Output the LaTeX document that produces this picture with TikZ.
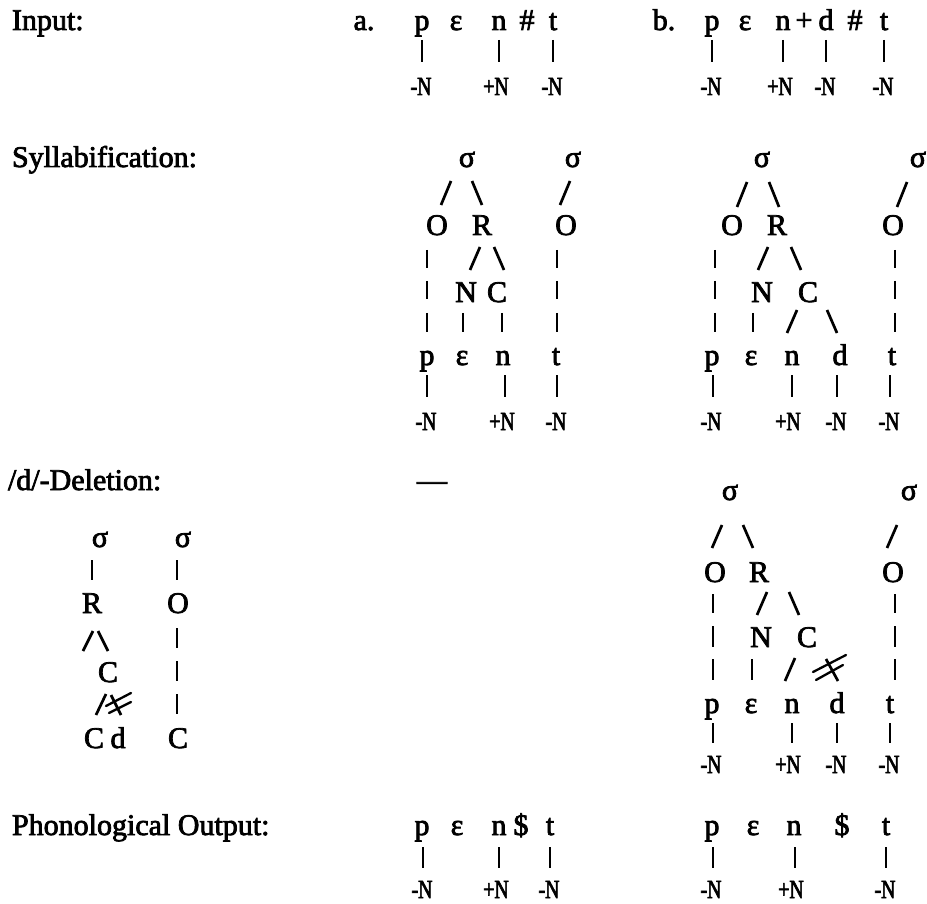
\documentclass[tikz,border=0pt]{standalone}
\usepackage{fontspec}
\setmainfont{Liberation Serif}
\newfontfamily\mainf{Liberation Serif}[FakeBold=2.5]
\newfontfamily\labf{Liberation Serif}[FakeStretch=0.76,FakeBold=2.5]
\tikzset{
  every node/.style={inner sep=0pt, outer sep=0pt},
  sym/.style={anchor=base, font=\mainf\fontsize{30}{34}\selectfont},
  rowlab/.style={anchor=base west, font=\mainf\fontsize{30}{34}\selectfont},
  feat/.style={anchor=base, font=\labf\fontsize{26}{30}\selectfont},
  conn/.style={line width=2.7pt, line cap=butt},
  strike/.style={line width=2.3pt, line cap=round},
}
\newcommand\tsym[4]{\node[sym] (#1) at (#2,#3) {#4};}
\newcommand\tfeat[4]{\node[feat] (#1) at (#2,#3) {#4};}
\newcommand\vbr[3]{\draw[conn] (#1,#2) -- (#1,#3);}
\newcommand\fsl[3]{\draw[conn] ({#1+5},#2) -- ({#1-5},#3);}
\newcommand\bsl[3]{\draw[conn] ({#1-5},#2) -- ({#1+5},#3);}
\begin{document}
\begin{tikzpicture}[x=1pt,y=-1pt]
\useasboundingbox (0,0) rectangle (927,904);
% ---------------- Input ----------------
\node[rowlab] (lin) at (12,30) {Input:};
\tsym{ia}{364}{30}{a.}
\tsym{iap}{422}{30}{p}\tsym{iae}{456}{30}{ε}\tsym{ian}{499}{30}{n}\tsym{iah}{527}{30}{\#}\tsym{iat}{553}{30}{t}
\vbr{422}{40}{62}\vbr{499}{40}{62}\vbr{553}{40}{62}
\tfeat{iapf}{421}{95}{-N}\tfeat{ianf}{496}{95}{+N}\tfeat{iatf}{552}{95}{-N}
\tsym{ib}{664}{30}{b.}
\tsym{ibp}{712}{30}{p}\tsym{ibe}{745}{30}{ε}\tsym{ibn}{783}{30}{n}\tsym{ibpl}{804}{30}{+}\tsym{ibd}{826}{30}{d}\tsym{ibh}{855}{30}{\#}\tsym{ibt}{884}{30}{t}
\vbr{712}{40}{62}\vbr{783}{40}{62}\vbr{826}{40}{62}\vbr{884}{40}{62}
\tfeat{ibpf}{711}{95}{-N}\tfeat{ibnf}{780}{95}{+N}\tfeat{ibdf}{825}{95}{-N}\tfeat{ibtf}{883}{95}{-N}
% ---------------- Syllabification ----------------
\node[rowlab] (lsy) at (12,167) {Syllabification:};
% a
\tsym{sas1}{467}{167}{σ}\tsym{sas2}{573}{167}{σ}
\fsl{446}{181}{205}\bsl{477}{181}{205}\fsl{565}{181}{205}
\tsym{sao1}{437}{235}{O}\tsym{sar}{482}{235}{R}\tsym{sao2}{566}{235}{O}
\vbr{427}{250}{268}\vbr{427}{281}{299}\vbr{427}{313}{332}
\vbr{557}{250}{268}\vbr{557}{281}{299}\vbr{557}{313}{332}
\fsl{475}{247}{270}\bsl{499}{247}{270}
\tsym{san}{466}{302}{N}\tsym{sac}{497}{302}{C}
\vbr{463}{313}{332}\vbr{502}{313}{332}
\tsym{sap}{427}{365}{p}\tsym{sae}{462}{365}{ε}\tsym{sann}{503}{365}{n}\tsym{sat}{556}{365}{t}
\vbr{427}{375}{397}\vbr{505}{375}{397}\vbr{557}{375}{397}
\tfeat{sapf}{426}{430}{-N}\tfeat{sanf}{502}{430}{+N}\tfeat{satf}{556}{430}{-N}
% b
\tsym{sbs1}{762}{167}{σ}\tsym{sbs2}{918}{167}{σ}
\fsl{742}{182}{207}\bsl{774}{182}{207}\fsl{902}{182}{207}
\tsym{sbo1}{732}{235}{O}\tsym{sbr}{777}{235}{R}\tsym{sbo2}{893}{235}{O}
\vbr{715}{250}{268}\vbr{715}{281}{299}\vbr{715}{313}{332}
\vbr{895}{250}{268}\vbr{895}{281}{299}\vbr{895}{313}{332}
\fsl{763}{247}{270}\bsl{796}{247}{270}
\tsym{sbn}{762}{302}{N}\tsym{sbc}{808}{302}{C}
\vbr{753}{313}{332}\fsl{792}{310}{333}\bsl{832}{310}{333}
\tsym{sbp}{712}{365}{p}\tsym{sbe}{751}{365}{ε}\tsym{sbnn}{792}{365}{n}\tsym{sbd}{840}{365}{d}\tsym{sbt}{892}{365}{t}
\vbr{713}{375}{397}\vbr{792}{375}{397}\vbr{837}{375}{397}\vbr{890}{375}{397}
\tfeat{sbpf}{711}{430}{-N}\tfeat{sbnf}{788}{430}{+N}\tfeat{sbdf}{836}{430}{-N}\tfeat{sbtf}{889}{430}{-N}
% ---------------- /d/-Deletion ----------------
\node[rowlab] (lde) at (8,490) {/d/-Deletion:};
\tsym{dash}{432}{490}{—}
% rule
\tsym{rs1}{100}{547}{σ}\tsym{rs2}{183}{547}{σ}
\vbr{92}{560}{580}\vbr{177}{560}{580}
\tsym{rr}{92}{613}{R}\tsym{ro}{178}{613}{O}
\fsl{88}{631}{651}\bsl{103}{631}{651}
\vbr{177}{628}{648}\vbr{177}{661}{681}\vbr{177}{694}{714}
\tsym{rc}{108}{682}{C}
\fsl{101}{694}{715}
\draw[conn] (111,695) -- (121,715);
\draw[strike] (106,706) -- (131,693);
\draw[strike] (109,713) -- (131,702);
\tsym{rc2}{94}{748}{C}\tsym{rd}{118}{748}{d}\tsym{rc3}{178}{748}{C}
% b
\tsym{dbs1}{730}{500}{σ}\tsym{dbs2}{909}{500}{σ}
\fsl{717}{525}{548}\bsl{748}{525}{548}\fsl{892}{525}{548}
\tsym{dbo1}{715}{582}{O}\tsym{dbr}{759}{582}{R}\tsym{dbo2}{893}{582}{O}
\vbr{713}{594}{613}\vbr{713}{626}{647}\vbr{713}{659}{680}
\vbr{895}{594}{613}\vbr{895}{626}{647}\vbr{895}{659}{680}
\fsl{762}{592}{615}\bsl{794}{592}{615}
\tsym{dbn}{761}{647}{N}\tsym{dbc}{807}{647}{C}
\vbr{752}{659}{680}\fsl{790}{658}{681}
\draw[conn] (826,659) -- (838,681);
\draw[strike] (813,672) -- (846,655);
\draw[strike] (816,680) -- (843,665);
\tsym{dbp}{712}{713}{p}\tsym{dbe}{751}{713}{ε}\tsym{dbnn}{792}{713}{n}\tsym{dbd}{837}{713}{d}\tsym{dbt}{890}{713}{t}
\vbr{713}{723}{743}\vbr{792}{723}{743}\vbr{837}{723}{743}\vbr{890}{723}{743}
\tfeat{dbpf}{711}{773}{-N}\tfeat{dbnf}{788}{773}{+N}\tfeat{dbdf}{836}{773}{-N}\tfeat{dbtf}{889}{773}{-N}
% ---------------- Phonological Output ----------------
\node[rowlab] (lou) at (12,835) {Phonological Output:};
\tsym{oap}{422}{835}{p}\tsym{oae}{457}{835}{ε}\tsym{oan}{499}{835}{n}\tsym{oad}{521}{835}{\$}\tsym{oat}{550}{835}{t}
\vbr{423}{847}{868}\vbr{499}{847}{868}\vbr{550}{847}{868}
\tfeat{oapf}{422}{898}{-N}\tfeat{oanf}{496}{898}{+N}\tfeat{oatf}{549}{898}{-N}
\tsym{obp}{712}{835}{p}\tsym{obe}{753}{835}{ε}\tsym{obn}{794}{835}{n}\tsym{obd}{842}{835}{\$}\tsym{obt}{886}{835}{t}
\vbr{713}{847}{868}\vbr{795}{847}{868}\vbr{886}{847}{868}
\tfeat{obpf}{711}{898}{-N}\tfeat{obnf}{791}{898}{+N}\tfeat{obtf}{885}{898}{-N}
\end{tikzpicture}
\end{document}
